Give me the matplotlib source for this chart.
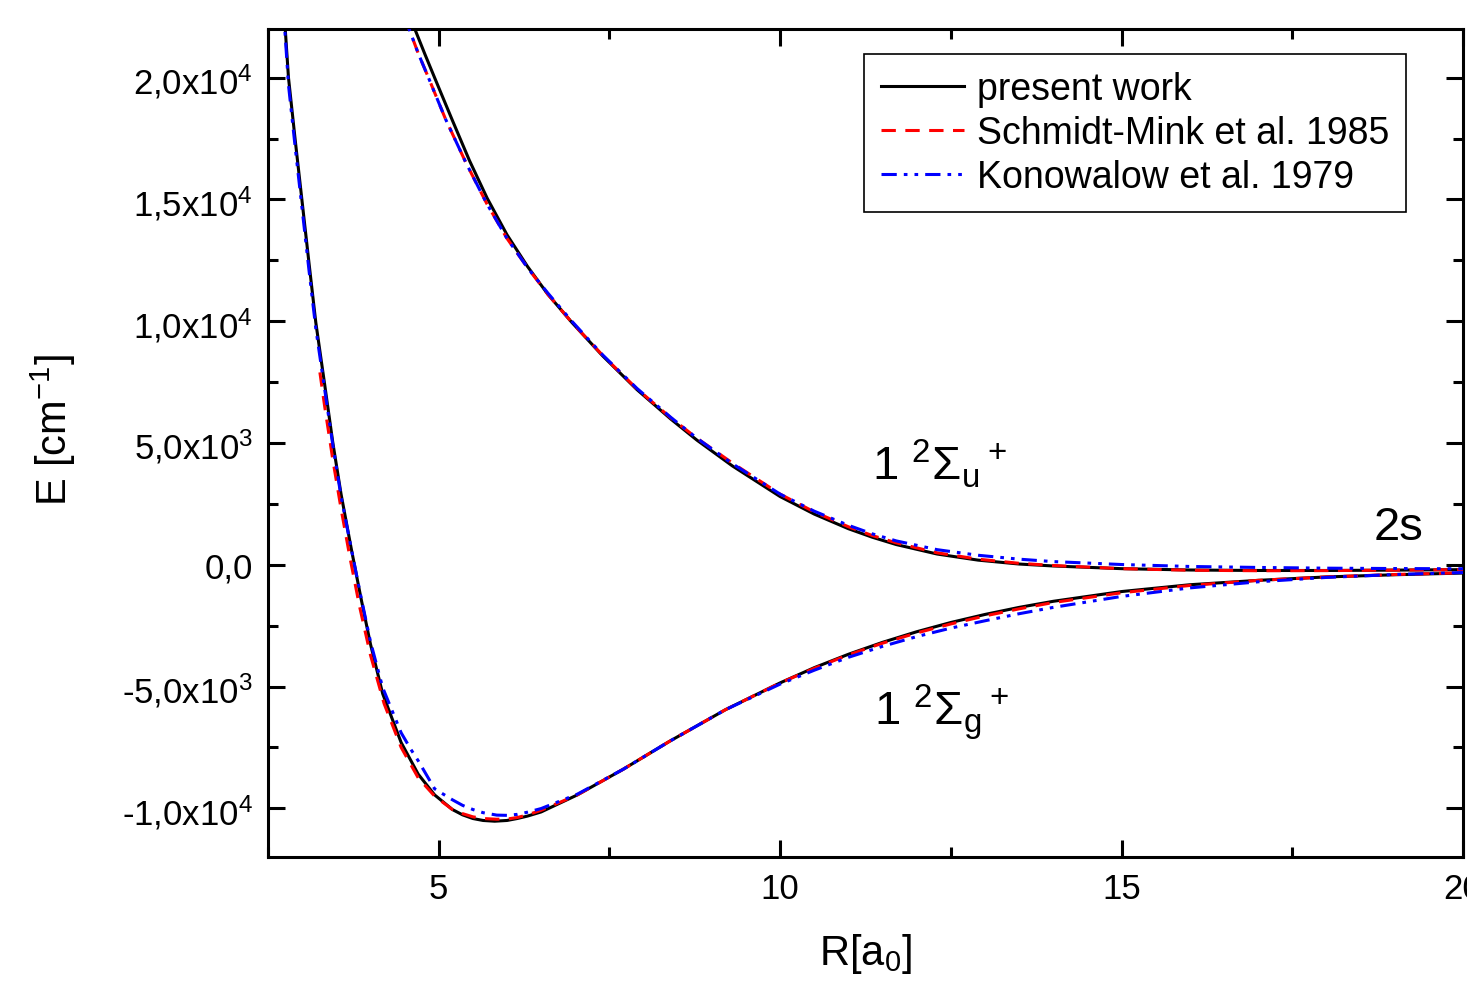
import math

import matplotlib
matplotlib.use("Agg")
import matplotlib.pyplot as plt
from matplotlib.ticker import MultipleLocator, FuncFormatter

plt.rcParams["font.family"] = ["Liberation Sans", "DejaVu Sans"]
plt.rcParams["mathtext.fontset"] = "custom"
plt.rcParams["mathtext.rm"] = "Liberation Sans"
plt.rcParams["mathtext.it"] = "Liberation Sans"
plt.rcParams["mathtext.bf"] = "Liberation Sans:bold"
plt.rcParams["mathtext.default"] = "regular"

# --- present work (black) ---
R_pw_g = [2.70, 2.75, 2.80, 2.90, 3.00, 3.10, 3.20, 3.33, 3.45, 3.57, 3.72, 3.86, 4.00,
          4.18, 4.45, 4.70, 4.94, 5.20, 5.35, 5.50, 5.65, 5.82, 6.00, 6.15, 6.30, 6.50,
          7.03, 7.70, 8.38, 9.20, 10.0, 10.5, 11.0, 11.5, 12.0, 12.5, 13.0, 13.5, 14.0,
          15.0, 16.0, 17.0, 18.0, 19.0, 20.0]
E_pw_g = [24300, 22100, 20000, 17400, 14900, 12400, 9950, 7400, 5000, 2900, 650, -1350, -3250,
          -5300, -7300, -8600, -9450, -10050, -10270, -10420, -10500, -10530, -10500, -10420, -10320, -10150,
          -9450, -8400, -7250, -5950, -4850, -4225, -3675, -3185, -2750, -2370, -2040, -1750, -1500,
          -1100, -820, -640, -500, -410, -340]

R_pw_u = [4.55, 4.65, 4.80, 4.94, 5.20, 5.45, 5.71, 6.00, 6.30, 6.60, 6.95, 7.40, 7.90, 8.40,
          8.78, 9.30, 10.0, 10.5, 11.0, 11.35, 11.7, 12.3, 12.9, 13.5, 14.0, 15.0, 16.0, 17.0,
          18.0, 19.0, 20.0]
E_pw_u = [22800, 22000, 20950, 20000, 18250, 16600, 15050, 13550, 12250, 11100, 9950, 8580, 7200, 5980,
          5120, 4060, 2800, 2080, 1480, 1130, 830, 440, 190, 30, -50, -160, -215, -235,
          -235, -220, -200]

# --- Schmidt-Mink et al. 1985 (red) ---
R_sm_g = [3.26, 3.33, 3.45, 3.57, 3.70, 3.84, 4.00, 4.20, 4.45, 4.70, 4.94, 5.20, 5.35, 5.50,
          5.65, 5.85, 6.00, 6.15, 6.30, 6.50, 7.03, 7.70, 8.38, 9.20, 10.0, 10.5, 11.0, 11.5,
          12.0, 12.5, 13.0, 13.5, 14.0, 15.0, 16.0, 17.0, 18.0, 19.0, 20.0]
E_sm_g = [7900, 6500, 4300, 2300, 300, -1700, -3700, -5700, -7500, -8750, -9500, -10050, -10220, -10350,
          -10420, -10450, -10440, -10380, -10270, -10080, -9450, -8400, -7250, -5950, -4850, -4250, -3700, -3220,
          -2800, -2430, -2100, -1810, -1550, -1150, -850, -640, -500, -400, -330]

R_sm_u = [4.50, 4.70, 4.85, 5.10, 5.40, 5.70, 6.00, 6.30, 6.60, 6.95, 7.40, 7.90, 8.40, 8.78,
          9.30, 10.0, 10.5, 11.0, 11.35, 11.7, 12.3, 12.9, 13.5, 14.0, 15.0, 16.0, 17.0, 18.0,
          19.0, 20.0]
E_sm_u = [22500, 21000, 20000, 18300, 16500, 14850, 13400, 12200, 11100, 9950, 8600, 7230, 6030, 5200,
          4180, 2900, 2170, 1560, 1200, 900, 490, 230, 60, -30, -160, -225, -245, -240,
          -220, -200]

# --- Konowalow et al. 1979 (blue) ---
R_ko_g = [2.70, 2.75, 2.80, 2.90, 3.00, 3.10, 3.20, 3.33, 3.45, 3.57, 3.72, 3.86, 4.00, 4.18,
          4.45, 4.59, 4.70, 4.94, 5.20, 5.35, 5.50, 5.65, 5.85, 6.00, 6.15, 6.30, 6.50, 7.03,
          7.70, 8.38, 9.20, 10.0, 10.5, 11.0, 11.5, 12.0, 12.5, 13.0, 13.5, 14.0, 15.0, 16.0,
          17.0, 18.0, 19.0, 20.0]
E_ko_g = [23900, 21800, 19700, 17100, 14600, 12100, 9700, 7200, 4900, 2800, 650, -1300, -3150, -5050,
          -6900, -7570, -8050, -9200, -9650, -9880, -10050, -10180, -10280, -10290, -10250, -10160, -10010, -9420,
          -8400, -7250, -5950, -4900, -4330, -3800, -3350, -2950, -2600, -2300, -2010, -1750, -1300, -950,
          -700, -520, -400, -320]

R_ko_u = [4.50, 4.70, 4.85, 5.10, 5.40, 5.70, 6.00, 6.30, 6.60, 6.95, 7.40, 7.90, 8.40, 8.78,
          9.30, 10.0, 10.5, 11.0, 11.35, 11.7, 12.3, 12.9, 13.5, 14.0, 15.0, 16.0, 17.0, 18.0,
          19.0, 20.0]
E_ko_u = [22500, 21000, 20000, 18300, 16500, 14850, 13400, 12200, 11150, 10000, 8620, 7250, 6050, 5200,
          4150, 2900, 2200, 1620, 1270, 980, 620, 390, 230, 130, 10, -70, -110, -140,
          -155, -165]

LABELS = ["present work", "Schmidt-Mink et al. 1985", "Konowalow et al. 1979"]

fig = plt.figure(figsize=(14.67, 9.87), dpi=100)
ax = fig.add_axes([268 / 1467, 1 - 858 / 987, (1463 - 268) / 1467, (858 - 30) / 987])

LW = 2.2
ax.plot(R_pw_g, E_pw_g, color="black", lw=LW, label=LABELS[0], zorder=2)
ax.plot(R_pw_u, E_pw_u, color="black", lw=LW, zorder=2)
ax.plot(R_sm_g, E_sm_g, color="#ff0000", lw=LW, dashes=(4.7, 3.1), label=LABELS[1], zorder=3)
ax.plot(R_sm_u, E_sm_u, color="#ff0000", lw=LW, dashes=(4.7, 3.1), zorder=3)
KO_DASH = (5, 2.3, 1.2, 2.3, 1.2, 2.3)
ax.plot(R_ko_g, E_ko_g, color="#0000ff", lw=LW, dashes=KO_DASH, label=LABELS[2], zorder=4)
ax.plot(R_ko_u, E_ko_u, color="#0000ff", lw=LW, dashes=KO_DASH, zorder=4)

ax.set_xlim(2.5, 20)
ax.set_ylim(-12000, 22000)

ax.xaxis.set_major_locator(MultipleLocator(5))
ax.xaxis.set_minor_locator(MultipleLocator(2.5))
ax.yaxis.set_major_locator(MultipleLocator(5000))
ax.yaxis.set_minor_locator(MultipleLocator(2500))


def sci_comma(v, pos):
    if abs(v) < 1e-9:
        return "0,0"
    e = int(math.floor(math.log10(abs(v)) + 1e-9))
    m = v / 10 ** e
    return ("%.1f" % m).replace(".", ",") + "x10$^{%d}$" % e


ax.yaxis.set_major_formatter(FuncFormatter(sci_comma))
ax.xaxis.set_major_formatter(FuncFormatter(lambda v, p: "%d" % v))

ax.tick_params(which="both", direction="in", top=True, right=True, width=2.2)
ax.tick_params(which="major", length=12, labelsize=25, pad=11)
ax.tick_params(which="minor", length=7)
for s in ax.spines.values():
    s.set_linewidth(2.2)

ax.set_xlabel("R[a$_{0}$]", fontsize=30)
ax.set_ylabel("E [cm$^{-1}$]", fontsize=30)
ax.xaxis.set_label_coords(0.5, -0.089)
ax.yaxis.set_label_coords(-0.159, 0.517)

ax.text(11.35, 3540, r"1 $^{2}\Sigma_{u}\,{}^{+}$", fontsize=34, ha="left", va="baseline")
ax.text(11.37, -6540, r"1 $^{2}\Sigma_{g}\,{}^{+}$", fontsize=34, ha="left", va="baseline")
ax.text(18.69, 1070, "2s", fontsize=34, ha="left", va="baseline")

leg = ax.legend(loc="upper right", bbox_to_anchor=(1406 / 1467, 1 - 55 / 987),
                bbox_transform=fig.transFigure, fontsize=27, frameon=True, fancybox=False,
                framealpha=1, edgecolor="black", borderpad=0.45, borderaxespad=0,
                labelspacing=0.22, handlelength=2.2, handletextpad=0.35)
leg.get_frame().set_linewidth(1.2)

fig.savefig("out.png", dpi=100, facecolor="white")
